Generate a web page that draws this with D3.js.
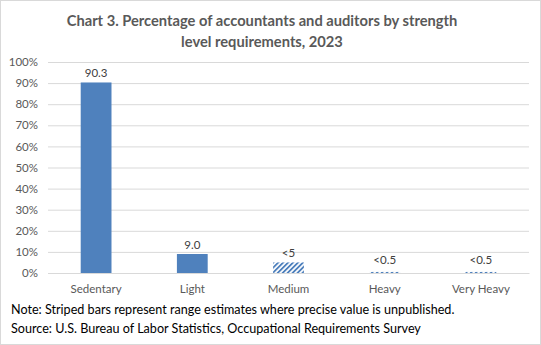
<!DOCTYPE html>
<html>
<head>
<meta charset="utf-8">
<script src="https://cdn.jsdelivr.net/npm/d3@7"></script>
<style>
  body { margin: 0; background: #fff; }
  svg { display: block; font-family: Lato, "Open Sans", sans-serif; }
</style>
</head>
<body>
<div id="chart"></div>
<script>
const width = 541;
const height = 345;

// strength levels and their shares (percent); ranged values are drawn at their upper bound
const categories = ["Sedentary", "Light", "Medium", "Heavy", "Very Heavy"];
const values = [90.3, 9.0, 5, 0.5, 0.5];
const valueLabels = ["90.3", "9.0", "<5", "<0.5", "<0.5"];
const isRange = [false, false, true, true, true];
const yTicks = [0, 10, 20, 30, 40, 50, 60, 70, 80, 90, 100];
const titleLines = ["Chart 3. Percentage of accountants and auditors by strength", "level requirements, 2023"];
const notes = [
  "Note: Striped bars represent range estimates where precise value is unpublished.",
  "Source: U.S. Bureau of Labor Statistics, Occupational Requirements Survey"
];

const margin = { top: 62, right: 12, bottom: 72, left: 48 };
const blue = "#4f81bd";

let svg = d3.select("#chart").append("svg")
    .attr("width", width)
    .attr("height", height);

// diagonal hatch for range estimates
let pat = svg.append("defs").append("pattern")
    .attr("id", "hatch")
    .attr("patternUnits", "userSpaceOnUse")
    .attr("width", 3.5)
    .attr("height", 3.5)
    .attr("patternTransform", "rotate(45)");
pat.append("rect").attr("width", 3.5).attr("height", 3.5).attr("fill", "#fff");
pat.append("rect").attr("width", 1.8).attr("height", 3.5).attr("fill", blue);

svg.append("rect")
    .attr("x", 0.5).attr("y", 0.5)
    .attr("width", width - 1).attr("height", height - 1)
    .attr("fill", "#fff")
    .attr("stroke", "#d9d9d9");

let x = d3.scaleBand()
    .domain(categories)
    .range([margin.left, width - margin.right])
    .paddingInner(0.68)
    .paddingOuter(0.34);

let y = d3.scaleLinear()
    .domain([0, 100])
    .range([height - margin.bottom, margin.top]);

// title
svg.append("g").selectAll("text")
    .data(titleLines)
    .enter().append("text")
    .attr("x", 262)
    .attr("y", (d, i) => 26 + i * 21)
    .attr("text-anchor", "middle")
    .attr("font-size", 14.7)
    .attr("font-weight", "bold")
    .attr("fill", "#595959")
    .text(d => d);

// gridlines + y labels
let yAxis = svg.append("g")
    .attr("transform", `translate(${margin.left},0)`)
    .call(d3.axisLeft(y).tickValues(yTicks).tickFormat(d => d + "%")
        .tickSize(-(width - margin.left - margin.right)).tickPadding(10));
yAxis.select(".domain").remove();
yAxis.selectAll(".tick line").attr("stroke", "#d9d9d9");
yAxis.selectAll(".tick text")
    .attr("fill", "#595959")
    .attr("font-size", 11.5)
    .attr("font-family", "Lato, sans-serif");

// x labels
let xAxis = svg.append("g")
    .attr("transform", `translate(0,${y(0)})`)
    .call(d3.axisBottom(x).tickSize(0).tickPadding(12));
xAxis.select(".domain").attr("stroke", "#d9d9d9");
xAxis.selectAll(".tick text")
    .attr("fill", "#595959")
    .attr("font-size", 11.5)
    .attr("font-family", "Lato, sans-serif");

// bars
let bars = categories.map((c, i) => ({ cat: c, value: values[i], label: valueLabels[i], range: isRange[i] }));

svg.append("g").selectAll("rect")
    .data(bars)
    .enter().append("rect")
    .attr("x", d => x(d.cat))
    .attr("y", d => y(d.value))
    .attr("width", x.bandwidth())
    .attr("height", d => y(0) - y(d.value))
    .attr("fill", d => d.range ? "url(#hatch)" : blue);

// value labels
svg.append("g").selectAll("text")
    .data(bars)
    .enter().append("text")
    .attr("x", d => x(d.cat) + x.bandwidth() / 2)
    .attr("y", d => y(d.value) - (d.value < 1 ? 8 : 5))
    .attr("text-anchor", "middle")
    .attr("font-size", 11.5)
    .attr("fill", "#404040")
    .text(d => d.label);

// footnotes
svg.append("g").selectAll("text")
    .data(notes)
    .enter().append("text")
    .attr("x", 11)
    .attr("y", (d, i) => 314 + i * 18.5)
    .attr("font-size", 12.6)
    .attr("fill", "#000")
    .text(d => d);
</script>
</body>
</html>
